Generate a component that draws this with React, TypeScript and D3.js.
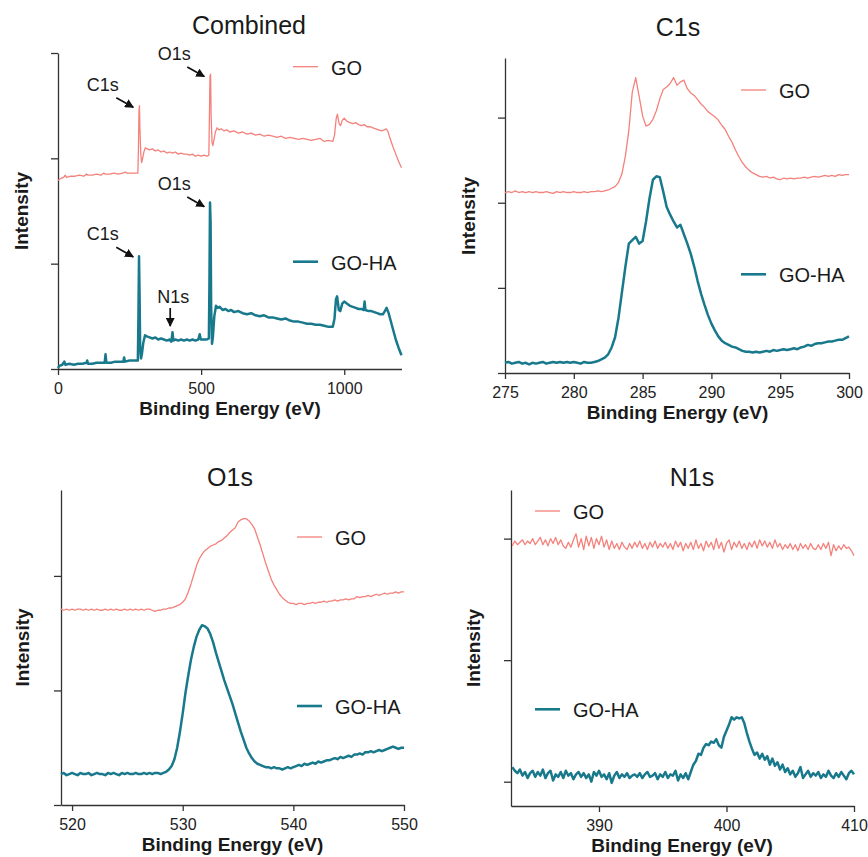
import React, { useEffect, useRef } from 'react';
import * as d3 from 'd3';

// survey scan, [binding energy (eV), intensity]
const surveyGO: [number, number][] = [
  [0, 1.79], [10, 1.81], [20, 1.82], [25, 1.84], [30, 1.82], [45, 1.83], [60, 1.83], [75, 1.84], [90, 1.83], [100, 1.85],
  [105, 1.84], [120, 1.84], [135, 1.85], [150, 1.84], [160, 1.86], [165, 1.85], [180, 1.85], [195, 1.86], [210, 1.85], [225, 1.86],
  [235, 1.87], [240, 1.86], [255, 1.86], [270, 1.86], [279, 1.86], [281, 2.10], [283, 2.45], [284.5, 2.50], [286, 2.30], [289, 2.05],
  [292, 1.96], [295, 1.99], [300, 2.06], [305, 2.10], [312, 2.09], [320, 2.08], [330, 2.09], [340, 2.07], [350, 2.08], [360, 2.06],
  [370, 2.07], [380, 2.05], [390, 2.06], [400, 2.05], [410, 2.06], [420, 2.04], [430, 2.05], [440, 2.04], [450, 2.04], [460, 2.03],
  [470, 2.04], [480, 2.02], [490, 2.03], [500, 2.02], [510, 2.03], [520, 2.02], [527, 2.03], [529, 2.40], [531, 2.78], [533, 2.80],
  [535, 2.40], [538, 2.15], [541, 2.12], [545, 2.18], [550, 2.25], [556, 2.29], [562, 2.27], [570, 2.28], [580, 2.26], [590, 2.27],
  [600, 2.25], [615, 2.26], [630, 2.24], [645, 2.25], [660, 2.23], [675, 2.24], [690, 2.22], [705, 2.23], [720, 2.21], [735, 2.22],
  [750, 2.21], [765, 2.20], [780, 2.21], [795, 2.19], [810, 2.20], [825, 2.19], [840, 2.18], [855, 2.19], [870, 2.18], [885, 2.17],
  [900, 2.18], [915, 2.19], [930, 2.16], [945, 2.17], [960, 2.16], [966, 2.22], [972, 2.38], [976, 2.42], [982, 2.33], [987, 2.31],
  [993, 2.36], [1000, 2.38], [1010, 2.35], [1020, 2.34], [1030, 2.33], [1040, 2.34], [1050, 2.32], [1060, 2.31], [1070, 2.32], [1080, 2.30],
  [1090, 2.30], [1100, 2.29], [1110, 2.28], [1120, 2.27], [1130, 2.26], [1140, 2.27], [1146, 2.28], [1152, 2.26], [1160, 2.19], [1170, 2.11],
  [1180, 2.04], [1190, 1.97], [1200, 1.91],
];
const surveyGOHA: [number, number][] = [
  [0, 0.01], [5, 0.03], [15, 0.04], [22, 0.07], [26, 0.04], [40, 0.05], [55, 0.04], [70, 0.05], [85, 0.05], [100, 0.06],
  [102, 0.08], [105, 0.05], [120, 0.05], [135, 0.06], [150, 0.06], [163, 0.06], [166, 0.14], [169, 0.06], [185, 0.06], [200, 0.07],
  [215, 0.07], [228, 0.07], [231, 0.11], [234, 0.07], [250, 0.08], [265, 0.08], [279, 0.08], [281, 0.50], [283, 1.07], [285, 0.70],
  [287, 0.20], [290, 0.10], [293, 0.14], [298, 0.25], [304, 0.32], [310, 0.31], [320, 0.30], [330, 0.29], [340, 0.30], [350, 0.28],
  [360, 0.29], [370, 0.28], [380, 0.27], [390, 0.28], [396, 0.26], [400, 0.35], [403, 0.27], [410, 0.28], [420, 0.27], [430, 0.28],
  [440, 0.27], [450, 0.28], [460, 0.27], [470, 0.28], [480, 0.27], [490, 0.28], [495, 0.33], [499, 0.28], [510, 0.28], [520, 0.28],
  [527, 0.29], [529, 0.80], [531, 1.58], [533, 1.40], [535, 0.60], [538, 0.24], [541, 0.30], [546, 0.50], [552, 0.60], [558, 0.58],
  [565, 0.59], [575, 0.56], [585, 0.57], [595, 0.55], [605, 0.56], [615, 0.54], [630, 0.55], [645, 0.53], [660, 0.52], [675, 0.53],
  [690, 0.51], [705, 0.50], [720, 0.51], [735, 0.49], [750, 0.49], [765, 0.48], [780, 0.47], [795, 0.48], [810, 0.46], [825, 0.45],
  [840, 0.45], [855, 0.44], [870, 0.43], [885, 0.43], [900, 0.42], [915, 0.42], [930, 0.41], [945, 0.40], [960, 0.40], [966, 0.48],
  [971, 0.66], [975, 0.69], [981, 0.56], [986, 0.55], [993, 0.62], [1000, 0.64], [1010, 0.62], [1020, 0.60], [1030, 0.59], [1040, 0.58],
  [1050, 0.57], [1060, 0.57], [1068, 0.56], [1071, 0.64], [1074, 0.56], [1085, 0.55], [1095, 0.55], [1105, 0.54], [1115, 0.53], [1125, 0.52],
  [1135, 0.52], [1142, 0.55], [1148, 0.58], [1155, 0.53], [1162, 0.46], [1170, 0.38], [1180, 0.28], [1190, 0.20], [1200, 0.13],
];

// high resolution scans, uniform energy grid
const c1sStart = 275, c1sStep = 0.25;
const c1sGO = [
  2.12, 2.13, 2.12, 2.14, 2.12, 2.13, 2.12, 2.13, 2.12, 2.13,
  2.12, 2.12, 2.13, 2.12, 2.11, 2.13, 2.12, 2.13, 2.12, 2.12,
  2.13, 2.12, 2.12, 2.13, 2.12, 2.13, 2.13, 2.14, 2.13, 2.14,
  2.15, 2.17, 2.19, 2.24, 2.34, 2.55, 2.85, 3.30, 3.47, 3.25,
  3.02, 2.90, 2.92, 2.98, 3.08, 3.22, 3.33, 3.36, 3.40, 3.47,
  3.38, 3.42, 3.44, 3.34, 3.29, 3.26, 3.21, 3.16, 3.12, 3.07,
  3.04, 3.01, 2.97, 2.91, 2.86, 2.78, 2.71, 2.62, 2.54, 2.47,
  2.42, 2.38, 2.35, 2.33, 2.31, 2.30, 2.31, 2.29, 2.30, 2.28,
  2.27, 2.29, 2.28, 2.29, 2.28, 2.29, 2.29, 2.30, 2.29, 2.30,
  2.31, 2.30, 2.31, 2.32, 2.31, 2.32, 2.31, 2.33, 2.32, 2.33,
  2.33,
];
const c1sGOHA = [
  0.12, 0.13, 0.11, 0.12, 0.13, 0.11, 0.12, 0.10, 0.12, 0.11,
  0.12, 0.13, 0.11, 0.12, 0.13, 0.12, 0.13, 0.12, 0.13, 0.12,
  0.13, 0.12, 0.11, 0.13, 0.12, 0.12, 0.13, 0.14, 0.16, 0.18,
  0.22, 0.30, 0.42, 0.65, 0.95, 1.25, 1.52, 1.56, 1.60, 1.52,
  1.55, 1.78, 2.05, 2.27, 2.31, 2.30, 2.13, 1.95, 1.86, 1.78,
  1.71, 1.74, 1.63, 1.52, 1.40, 1.25, 1.08, 0.93, 0.80, 0.68,
  0.58, 0.50, 0.43, 0.38, 0.35, 0.33, 0.31, 0.30, 0.28, 0.26,
  0.25, 0.25, 0.24, 0.25, 0.24, 0.25, 0.26, 0.25, 0.27, 0.26,
  0.27, 0.28, 0.27, 0.28, 0.29, 0.28, 0.30, 0.31, 0.33, 0.32,
  0.34, 0.35, 0.35, 0.36, 0.37, 0.37, 0.38, 0.39, 0.39, 0.41,
  0.43,
];

const o1sStart = 519, o1sStep = 0.25;
const o1sGO = [
  1.71, 1.70, 1.71, 1.70, 1.71, 1.70, 1.71, 1.71, 1.70, 1.71,
  1.70, 1.71, 1.70, 1.71, 1.70, 1.70, 1.71, 1.70, 1.71, 1.70,
  1.71, 1.70, 1.70, 1.71, 1.70, 1.71, 1.70, 1.71, 1.70, 1.71,
  1.70, 1.71, 1.71, 1.70, 1.69, 1.70, 1.70, 1.71, 1.71, 1.72,
  1.72, 1.73, 1.74, 1.75, 1.77, 1.80, 1.86, 1.93, 2.01, 2.09,
  2.15, 2.19, 2.22, 2.24, 2.26, 2.27, 2.28, 2.30, 2.31, 2.33,
  2.35, 2.38, 2.40, 2.42, 2.47, 2.49, 2.50, 2.50, 2.48, 2.45,
  2.41, 2.34, 2.27, 2.19, 2.11, 2.04, 1.97, 1.92, 1.88, 1.84,
  1.81, 1.79, 1.77, 1.76, 1.76, 1.75, 1.76, 1.76, 1.75, 1.76,
  1.76, 1.77, 1.76, 1.77, 1.77, 1.78, 1.77, 1.78, 1.78, 1.79,
  1.78, 1.79, 1.79, 1.80, 1.79, 1.80, 1.80, 1.82, 1.81, 1.82,
  1.82, 1.83, 1.82, 1.83, 1.84, 1.83, 1.84, 1.85, 1.84, 1.85,
  1.85, 1.86, 1.85, 1.86, 1.86,
];
const o1sGOHA = [
  0.27, 0.28, 0.26, 0.27, 0.28, 0.27, 0.26, 0.28, 0.27, 0.27,
  0.28, 0.26, 0.27, 0.28, 0.27, 0.27, 0.26, 0.28, 0.27, 0.28,
  0.27, 0.26, 0.28, 0.27, 0.28, 0.27, 0.27, 0.28, 0.27, 0.27,
  0.28, 0.27, 0.28, 0.27, 0.28, 0.28, 0.27, 0.28, 0.29, 0.31,
  0.34, 0.40, 0.50, 0.64, 0.80, 0.98, 1.13, 1.27, 1.38, 1.47,
  1.53, 1.57, 1.56, 1.54, 1.49, 1.42, 1.33, 1.25, 1.17, 1.09,
  1.02, 0.95, 0.88, 0.80, 0.72, 0.64, 0.57, 0.50, 0.45, 0.41,
  0.38, 0.36, 0.35, 0.34, 0.33, 0.33, 0.32, 0.33, 0.32, 0.32,
  0.31, 0.32, 0.33, 0.32, 0.33, 0.34, 0.35, 0.34, 0.36, 0.35,
  0.36, 0.37, 0.36, 0.38, 0.37, 0.38, 0.39, 0.39, 0.40, 0.41,
  0.40, 0.42, 0.41, 0.42, 0.43, 0.42, 0.44, 0.44, 0.45, 0.44,
  0.46, 0.46, 0.47, 0.46, 0.47, 0.48, 0.47, 0.48, 0.49, 0.50,
  0.51, 0.50, 0.49, 0.50, 0.50,
];

const n1sStart = 383.2, n1sStep = 0.2;
const n1sGO = [
  1.94, 1.98, 1.95, 1.97, 1.99, 1.95, 1.98, 1.96, 2.00, 1.95,
  1.98, 2.01, 1.95, 1.99, 1.94, 2.00, 1.96, 2.01, 1.95, 1.99,
  1.94, 1.92, 1.97, 1.93, 1.99, 2.04, 1.93, 2.00, 1.91, 2.02,
  1.94, 2.01, 1.92, 2.00, 1.95, 2.02, 1.93, 1.99, 1.91, 1.98,
  1.92, 1.96, 1.91, 1.97, 1.93, 1.91, 1.96, 1.92, 1.97, 1.93,
  1.98, 1.92, 1.96, 1.91, 1.97, 1.93, 1.98, 1.92, 1.96, 1.93,
  1.97, 1.92, 1.96, 1.91, 1.98, 1.93, 1.97, 1.90, 1.96, 1.92,
  1.97, 1.91, 1.99, 1.92, 1.96, 1.90, 1.98, 1.93, 1.97, 1.91,
  2.00, 1.92, 1.97, 1.89, 1.96, 1.99, 1.91, 1.97, 1.93, 1.98,
  1.92, 1.96, 1.91, 1.97, 1.93, 1.98, 1.92, 1.99, 1.94, 1.98,
  1.93, 1.97, 1.92, 1.99, 1.93, 1.96, 1.91, 1.95, 1.92, 1.96,
  1.91, 1.95, 1.90, 1.96, 1.92, 1.95, 1.91, 1.96, 1.92, 1.91,
  1.95, 1.91, 1.96, 1.92, 1.97, 1.86, 1.95, 1.90, 1.94, 1.91,
  1.95, 1.92, 1.93, 1.90, 1.86,
];
const n1sGOHA = [
  0.12, 0.09, 0.07, 0.10, 0.05, 0.08, 0.03, 0.07, 0.09, 0.04,
  0.08, 0.05, 0.10, 0.03, 0.07, 0.09, 0.01, 0.06, 0.04, 0.08,
  0.03, 0.09, 0.05, 0.07, 0.02, 0.06, 0.08, 0.04, 0.07, 0.03,
  0.06, 0.00, 0.08, 0.05, 0.09, 0.04, 0.06, 0.02, 0.07, -0.01,
  0.05, 0.08, 0.03, 0.06, 0.04, 0.07, 0.03, 0.05, 0.06, 0.04,
  0.07, 0.03, 0.06, 0.08, 0.04, 0.05, 0.07, 0.02, 0.06, 0.04,
  0.08, 0.03, 0.06, 0.05, 0.09, 0.01, 0.06, 0.03, 0.07, 0.02,
  0.08, 0.14, 0.17, 0.23, 0.22, 0.28, 0.31, 0.30, 0.33, 0.32,
  0.35, 0.30, 0.28, 0.37, 0.42, 0.47, 0.53, 0.51, 0.53, 0.52,
  0.53, 0.48, 0.40, 0.33, 0.27, 0.22, 0.24, 0.19, 0.23, 0.18,
  0.21, 0.14, 0.19, 0.13, 0.16, 0.10, 0.14, 0.08, 0.11, 0.06,
  0.09, 0.04, 0.07, 0.12, 0.03, 0.06, 0.09, 0.04, 0.07, 0.05,
  0.08, 0.03, 0.06, 0.04, 0.09, 0.05, 0.03, 0.07, 0.04, 0.08,
  0.05, 0.02, 0.07, 0.09, 0.06,
];

const seriesNames = ['GO', 'GO-HA'];
const combinedTicks = [0, 500, 1000];
const c1sTicks = [275, 280, 285, 290, 295, 300];
const o1sTicks = [520, 530, 540, 550];
const n1sTicks = [390, 400, 410];

// peak callouts on the survey: where the arrow points (eV, intensity)
const surveyPeaks = [
  { label: 'C1s', e: 263, v: 2.485, vertical: false },
  { label: 'O1s', e: 511, v: 2.776, vertical: false },
  { label: 'C1s', e: 263, v: 1.064, vertical: false },
  { label: 'O1s', e: 511, v: 1.541, vertical: false },
  { label: 'N1s', e: 392, v: 0.408, vertical: true },
];

const GO_COLOR = '#F4817B';
const GOHA_COLOR = '#19798C';
const FONT = 'Liberation Sans, Arial, Helvetica, sans-serif';

const toPairs = (start: number, step: number, vals: number[]): [number, number][] =>
  vals.map((v, i) => [start + i * step, v]);

const App = () => {
  const svgRef = useRef<SVGSVGElement>(null);

  useEffect(() => {
    const svg = d3.select(svgRef.current);
    svg.selectAll('*').remove();

    svg.append('defs').append('marker')
      .attr('id', 'arrow')
      .attr('viewBox', '0 0 10 10')
      .attr('refX', 9)
      .attr('refY', 5)
      .attr('markerUnits', 'userSpaceOnUse')
      .attr('markerWidth', 9)
      .attr('markerHeight', 9)
      .attr('orient', 'auto')
      .append('path')
      .attr('d', 'M0,0 L10,5 L0,10 z')
      .attr('fill', '#111');

    const panels = [
      { title: 'Combined', go: surveyGO, goha: surveyGOHA, xDomain: [0, 1200], xTicks: combinedTicks,
        yDomain: [0, 3], yTicks: [0, 1, 2, 3], left: 58, right: 401.5, top: 53, bottom: 369,
        titleX: 249, titleY: 33.5, xLabelX: 230, yLabelX: 27.5, yLabelY: 211, legendX: 293, legendY: [66.7, 261.7] },
      { title: 'C1s', go: toPairs(c1sStart, c1sStep, c1sGO), goha: toPairs(c1sStart, c1sStep, c1sGOHA),
        xDomain: [275, 300], xTicks: c1sTicks, yDomain: [0, 3.7], yTicks: [0, 1, 2, 3],
        left: 505, right: 849, top: 58, bottom: 373,
        titleX: 678, titleY: 35.5, xLabelX: 677.5, yLabelX: 474.5, yLabelY: 216, legendX: 741, legendY: [90, 274.3] },
      { title: 'O1s', go: toPairs(o1sStart, o1sStep, o1sGO), goha: toPairs(o1sStart, o1sStep, o1sGOHA),
        xDomain: [519, 550], xTicks: o1sTicks, yDomain: [0, 2.75], yTicks: [0, 1, 2],
        left: 61, right: 404, top: 490, bottom: 805,
        titleX: 230, titleY: 485.5, xLabelX: 232.5, yLabelX: 29, yLabelY: 647.5, legendX: 297, legendY: [537, 706] },
      { title: 'N1s', go: toPairs(n1sStart, n1sStep, n1sGO), goha: toPairs(n1sStart, n1sStep, n1sGOHA),
        xDomain: [383.1, 410], xTicks: n1sTicks, yDomain: [-0.2, 2.4], yTicks: [0, 1, 2],
        left: 511, right: 854, top: 490, bottom: 806,
        titleX: 692, titleY: 485.5, xLabelX: 682, yLabelX: 479.5, yLabelY: 648, legendX: 535, legendY: [511, 709.3] },
    ];

    panels.forEach((p, pi) => {
      const g = svg.append('g');
      const x = d3.scaleLinear().domain(p.xDomain).range([p.left, p.right]);
      const y = d3.scaleLinear().domain(p.yDomain).range([p.bottom, p.top]);

      // axes
      g.append('g')
        .attr('transform', `translate(${p.left},0)`)
        .attr('color', '#333')
        .call(d3.axisLeft(y).tickValues(p.yTicks).tickSize(7).tickSizeOuter(0).tickFormat(() => ''))
        .call(a => a.selectAll('path, line').attr('stroke-width', 1.3));

      g.append('g')
        .attr('transform', `translate(0,${p.bottom})`)
        .attr('color', '#333')
        .call(d3.axisBottom(x).tickValues(p.xTicks).tickSize(6).tickSizeOuter(0).tickPadding(7.5).tickFormat(d3.format('d')))
        .call(a => a.selectAll('path, line').attr('stroke-width', 1.3))
        .call(a => a.selectAll('text')
          .attr('font-size', 16)
          .attr('font-family', FONT)
          .attr('fill', '#222'));

      // spectra
      const line = d3.line<[number, number]>().x(d => x(d[0])).y(d => y(d[1]));
      g.append('path')
        .datum(p.go)
        .attr('d', line)
        .attr('fill', 'none')
        .attr('stroke', GO_COLOR)
        .attr('stroke-width', 1.3)
        .attr('stroke-linejoin', 'round');
      g.append('path')
        .datum(p.goha)
        .attr('d', line)
        .attr('fill', 'none')
        .attr('stroke', GOHA_COLOR)
        .attr('stroke-width', 2.5)
        .attr('stroke-linejoin', 'round');

      // titles
      g.append('text')
        .attr('x', p.titleX).attr('y', p.titleY)
        .attr('text-anchor', 'middle')
        .attr('font-family', FONT).attr('font-size', 25).attr('fill', '#1a1a1a')
        .text(p.title);
      g.append('text')
        .attr('x', p.xLabelX).attr('y', p.bottom + 46)
        .attr('text-anchor', 'middle')
        .attr('font-family', FONT).attr('font-size', 19).attr('font-weight', 'bold').attr('fill', '#1a1a1a')
        .text('Binding Energy (eV)');
      g.append('text')
        .attr('transform', `translate(${p.yLabelX},${p.yLabelY}) rotate(-90)`)
        .attr('text-anchor', 'middle')
        .attr('font-family', FONT).attr('font-size', 19).attr('font-weight', 'bold').attr('fill', '#1a1a1a')
        .text('Intensity');

      // legend
      seriesNames.forEach((name, i) => {
        const ly = p.legendY[i];
        g.append('line')
          .attr('x1', p.legendX).attr('x2', p.legendX + 25)
          .attr('y1', ly).attr('y2', ly)
          .attr('stroke', i === 0 ? GO_COLOR : GOHA_COLOR)
          .attr('stroke-width', i === 0 ? 1.3 : 2.6);
        g.append('text')
          .attr('x', p.legendX + 38).attr('y', ly + 8)
          .attr('font-family', FONT).attr('font-size', 20).attr('fill', '#1a1a1a')
          .text(name);
      });

      // peak callouts on the survey panel
      if (pi === 0) {
        surveyPeaks.forEach(pk => {
          const tx = x(pk.e), ty = y(pk.v);
          const fx = pk.vertical ? tx : tx - 17;
          const fy = pk.vertical ? ty - 18 : ty - 9.6;
          g.append('line')
            .attr('x1', fx).attr('y1', fy).attr('x2', tx).attr('y2', ty)
            .attr('stroke', '#111').attr('stroke-width', 1.7)
            .attr('marker-end', 'url(#arrow)');
          g.append('text')
            .attr('x', pk.vertical ? tx - 13 : tx - 46.6)
            .attr('y', pk.vertical ? ty - 22.7 : ty - 16.6)
            .attr('font-family', FONT).attr('font-size', 18).attr('fill', '#1a1a1a')
            .text(pk.label);
        });
      }
    });
  }, []);

  return (
    <svg
      ref={svgRef}
      width={868}
      height={857}
      style={{ position: 'absolute', left: 0, top: 0, background: '#fff' }}
    />
  );
};

export default App;
